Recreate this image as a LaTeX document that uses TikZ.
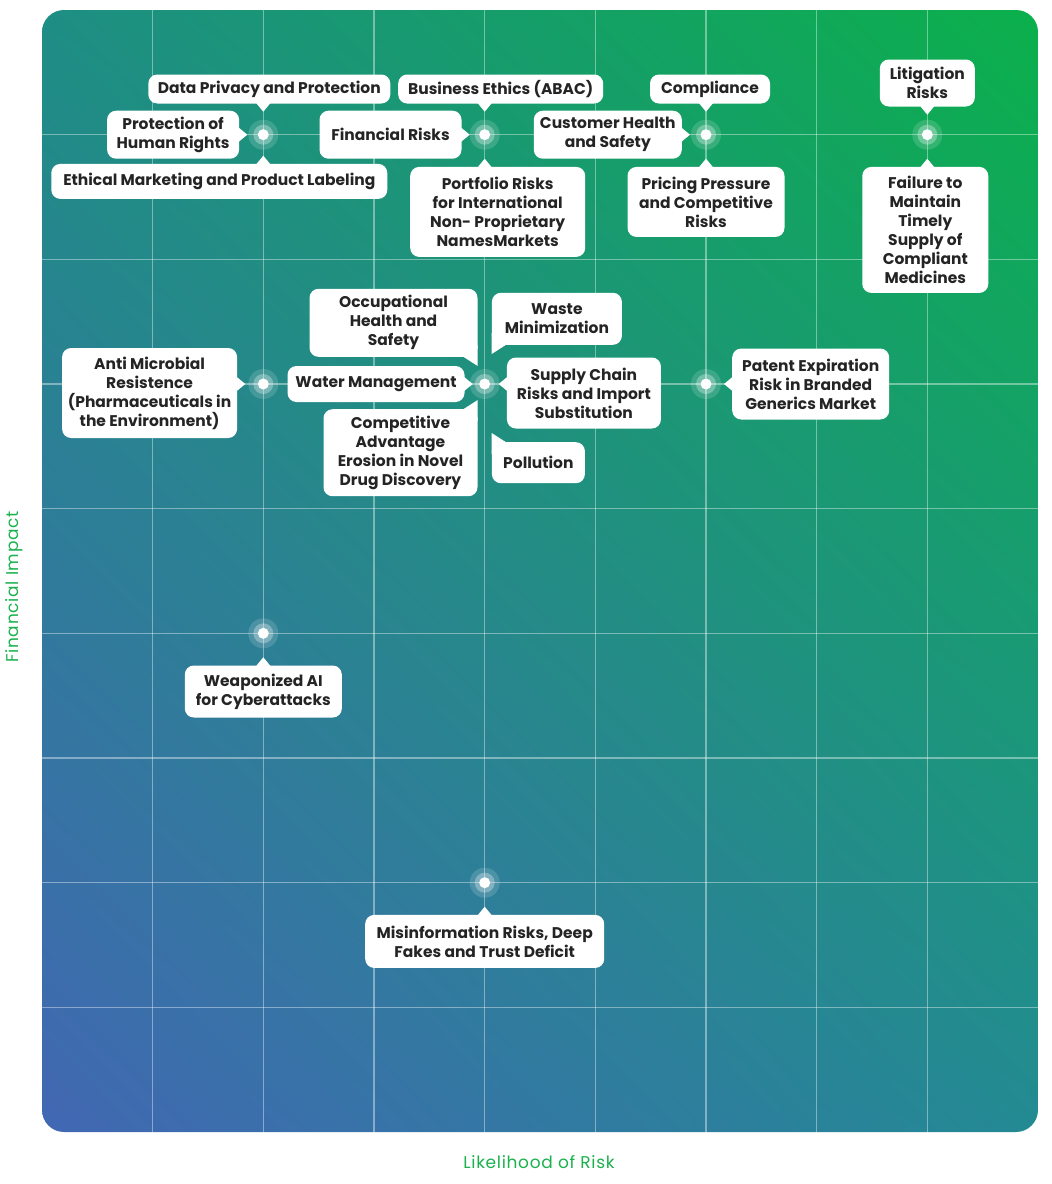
\documentclass[tikz,border=0pt]{standalone}
\usepackage{fontspec}
\setmainfont{Poppins}
\usetikzlibrary{positioning}
\usetikzlibrary{calc}
\usetikzlibrary{shadings}
\definecolor{panelTL}{HTML}{1E8E84}
\definecolor{panelTR}{HTML}{0BB04B}
\definecolor{panelBL}{HTML}{4267B3}
\definecolor{panelBR}{HTML}{238A93}
\definecolor{boxtext}{HTML}{242424}
\definecolor{axisgreen}{HTML}{1BB14E}
\tikzset{%
	% Specifications for style of nodes:
	riskbox/.style = {rectangle, rounded corners=9pt, fill=white, align=center, inner xsep=3pt, inner ysep=2pt, text=boxtext, font=\fontsize{15.5}{19}\selectfont\bfseries},
	axislabel/.style = {text=axisgreen, font=\fontsize{17}{20}\selectfont\addfontfeatures{LetterSpace=4}},
	gridline/.style = {draw=white, draw opacity=0.4, line width=1.5pt},
}
% tails of the call-out boxes
\newcommand{\taildown}[2]{\fill[white] ($(#1.south -| #2)+(-7,-0.5)$) -- ($(#1.south -| #2)+(7,-0.5)$) -- ($(#1.south -| #2)+(0,8)$) -- cycle;}
\newcommand{\tailup}[2]{\fill[white] ($(#1.north -| #2)+(-7,0.5)$) -- ($(#1.north -| #2)+(7,0.5)$) -- ($(#1.north -| #2)+(0,-8)$) -- cycle;}
\newcommand{\tailright}[2]{\fill[white] ($(#1.east |- #2)+(-0.5,-7)$) -- ($(#1.east |- #2)+(-0.5,7)$) -- ($(#1.east |- #2)+(8,0)$) -- cycle;}
\newcommand{\tailleft}[2]{\fill[white] ($(#1.west |- #2)+(0.5,-7)$) -- ($(#1.west |- #2)+(0.5,7)$) -- ($(#1.west |- #2)+(-8,0)$) -- cycle;}
\newcommand{\tailSE}[1]{\fill[white] ($(#1.south east)+(-14,0)$) -- ($(#1.south east)+(0,-12)$) -- ($(#1.south east)+(0,9)$) -- cycle;}
\newcommand{\tailSW}[1]{\fill[white] ($(#1.south west)+(14,0)$) -- ($(#1.south west)+(0,-12)$) -- ($(#1.south west)+(0,9)$) -- cycle;}
\newcommand{\tailNE}[1]{\fill[white] ($(#1.north east)+(-14,0)$) -- ($(#1.north east)+(0,12)$) -- ($(#1.north east)+(0,-9)$) -- cycle;}
\newcommand{\tailNW}[1]{\fill[white] ($(#1.north west)+(14,0)$) -- ($(#1.north west)+(0,12)$) -- ($(#1.north west)+(0,-9)$) -- cycle;}

\begin{document}
\begin{tikzpicture}[x=1pt,y=-1pt]
		\useasboundingbox (0,0) rectangle (1052,1184);
		
		\shade[rounded corners=22pt, upper left=panelTL, upper right=panelTR, lower left=panelBL, lower right=panelBR] (42,10) rectangle (1038,1132);
		\foreach \k in {1,...,8} {
			\draw[gridline] ({42+110.667*\k},10) -- ({42+110.667*\k},1132);
			\draw[gridline] (42,{10+124.667*\k}) -- (1038,{10+124.667*\k});
		}
		
		% risk points
		\coordinate (A) at (263.3,134.7);
		\coordinate (B) at (484.7,134.7);
		\coordinate (C) at (706.0,134.7);
		\coordinate (D) at (927.3,134.7);
		\coordinate (E) at (263.3,384.0);
		\coordinate (F) at (484.7,384.0);
		\coordinate (G) at (706.0,384.0);
		\coordinate (H) at (263.3,633.3);
		\coordinate (I) at (484.7,882.7);
		\foreach \p in {A,B,C,D,E,F,G,H,I} {
			\fill[white, opacity=0.15] (\p) circle (15pt);
			\fill[white, opacity=0.3] (\p) circle (10pt);
			\fill[white] (\p) circle (5.5pt);
		}
		
		\node (DataPrivacy) [riskbox, minimum width=242pt, minimum height=29pt, above=31pt of A, xshift=6pt] {Data Privacy and Protection};
		\node (HumanRights) [riskbox, minimum width=132pt, minimum height=48pt, left=24pt of A] {Protection of\\Human Rights};
		\node (Ethical) [riskbox, minimum width=336pt, minimum height=35pt, below=29pt of A, xshift=-44pt] {Ethical Marketing and Product Labeling};
		
		\node (Financial) [riskbox, minimum width=142pt, minimum height=48pt, left=23pt of B] {Financial Risks};
		\node (Ethics) [riskbox, minimum width=205pt, minimum height=29pt, above=31pt of B, xshift=16pt] {Business Ethics (ABAC)};
		\node (Portfolio) [riskbox, minimum width=175pt, minimum height=90pt, below=32pt of B, xshift=13pt] {Portfolio Risks\\for International\\Non- Proprietary\\NamesMarkets};
		
		\node (Compliance) [riskbox, minimum width=120pt, minimum height=29pt, above=31pt of C, xshift=4pt] {Compliance};
		\node (Customer) [riskbox, minimum width=148pt, minimum height=48pt, left=24pt of C] {Customer Health\\and Safety};
		\node (Pricing) [riskbox, minimum width=157pt, minimum height=70pt, below=32pt of C] {Pricing Pressure\\and Competitive\\Risks};
		
		\node (Litigation) [riskbox, minimum width=95pt, minimum height=47pt, above=28pt of D] {Litigation\\Risks};
		\node (Supply) [riskbox, minimum width=126pt, minimum height=126pt, below=32pt of D, xshift=-2pt] {Failure to\\Maintain\\Timely\\Supply of\\Compliant\\Medicines};
		
		\node (Microbial) [riskbox, minimum width=175pt, minimum height=90pt, left=26pt of E, yshift=-9pt] {Anti Microbial\\Resistence\\(Pharmaceuticals in\\the Environment)};
		
		\node (Occupational) [riskbox, minimum width=168pt, minimum height=68pt, above left=27pt and 7pt of F] {Occupational\\Health and\\Safety};
		\node (Waste) [riskbox, minimum width=130pt, minimum height=52pt, above right=39pt and 7pt of F] {Waste\\Minimization};
		\node (Water) [riskbox, minimum width=177pt, minimum height=36pt, left=20pt of F] {Water Management};
		\node (SupplyChain) [riskbox, minimum width=154pt, minimum height=71pt, right=22pt of F, yshift=-9pt] {Supply Chain\\Risks and Import\\Substitution};
		\node (Advantage) [riskbox, minimum width=154pt, minimum height=87pt, below left=25pt and 7pt of F] {Competitive\\Advantage\\Erosion in Novel\\Drug Discovery};
		\node (Pollution) [riskbox, minimum width=93pt, minimum height=41pt, below right=58pt and 7pt of F] {Pollution};
		
		\node (Patent) [riskbox, minimum width=157pt, minimum height=71pt, right=26pt of G] {Patent Expiration\\Risk in Branded\\Generics Market};
		\node (Weaponized) [riskbox, minimum width=157pt, minimum height=52pt, below=32pt of H] {Weaponized AI\\for Cyberattacks};
		\node (Misinfo) [riskbox, minimum width=239pt, minimum height=53pt, below=32pt of I] {Misinformation Risks, Deep\\Fakes and Trust Deficit};
		
		\taildown{DataPrivacy}{A}
		\tailright{HumanRights}{A}
		\tailup{Ethical}{A}
		\tailright{Financial}{B}
		\taildown{Ethics}{B}
		\tailup{Portfolio}{B}
		\taildown{Compliance}{C}
		\tailright{Customer}{C}
		\tailup{Pricing}{C}
		\taildown{Litigation}{D}
		\tailup{Supply}{D}
		\tailright{Microbial}{E}
		\tailSE{Occupational}
		\tailSW{Waste}
		\tailright{Water}{F}
		\tailleft{SupplyChain}{F}
		\tailNE{Advantage}
		\tailNW{Pollution}
		\tailleft{Patent}{G}
		\tailup{Weaponized}{H}
		\tailup{Misinfo}{I}
		
		\node (Impact) [axislabel, rotate=90] at (14,587) {Financial Impact};
		\node (Likelihood) [axislabel] at (539,1162) {Likelihood of Risk};
\end{tikzpicture}
\end{document}
